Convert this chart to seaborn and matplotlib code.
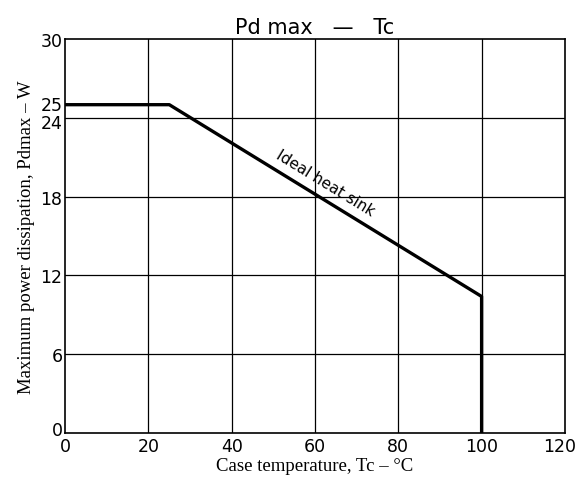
import numpy as np
import pandas as pd
import matplotlib
matplotlib.use("Agg")
import matplotlib.pyplot as plt
import matplotlib.transforms as mtrans
import seaborn as sns

# derating curve
temp_c = [0, 25, 100, 100]
pd_max_w = [25, 25, 10.4, 0]
x_ticks = [0, 20, 40, 60, 80, 100, 120]
y_ticks = [0, 6, 12, 18, 24, 25, 30]
y_grid = [6, 12, 18, 24]

df = pd.DataFrame({"Tc": temp_c, "Pd": pd_max_w})

sns.set_style("white")
plt.rcParams["text.color"] = "black"
plt.rcParams["axes.labelcolor"] = "black"
plt.rcParams["xtick.color"] = "black"
plt.rcParams["ytick.color"] = "black"

fig = plt.figure(figsize=(5.77, 4.85), dpi=100)
ax = fig.add_axes([0.113, 0.105, 0.866, 0.8125])

# grid
for xv in x_ticks[1:-1]:
    ax.axvline(xv, color="black", lw=0.9, zorder=1)
for yv in y_grid:
    ax.axhline(yv, color="black", lw=0.9, zorder=1)

sns.lineplot(data=df, x="Tc", y="Pd", sort=False, estimator=None,
             color="black", lw=2.4, ax=ax, zorder=3)

ax.set_xlim(0, 120)
ax.set_ylim(0, 30)
ax.set_xticks(x_ticks)
ax.set_yticks(y_ticks)
ax.tick_params(axis="x", length=0, pad=3)
ax.tick_params(axis="y", length=0, pad=2)
for lab in ax.get_xticklabels() + ax.get_yticklabels():
    lab.set_fontsize(12.5)
    lab.set_fontfamily("DejaVu Sans")

def nudge(lab, dx, dy):
    lab.set_transform(lab.get_transform() +
                      mtrans.ScaledTranslation(dx / 72, dy / 72, fig.dpi_scale_trans))

# nudge crowded labels apart (0, 24, 25) and keep 120 inside the figure
y_nudges = {0: 4, 24: -2, 25: 1}
for lab, val in zip(ax.get_yticklabels(), y_ticks):
    if val in y_nudges:
        nudge(lab, 0, y_nudges[val])
nudge(ax.get_xticklabels()[-1], -4, 0)

for sp in ax.spines.values():
    sp.set_color("black")
    sp.set_linewidth(1.2)

ax.set_xlabel("Case temperature, Tc – °C", fontsize=13.5,
              fontfamily="Liberation Serif", labelpad=1)
ax.set_ylabel("Maximum power dissipation, Pdmax – W", fontsize=13.5,
              fontfamily="Liberation Serif", labelpad=4)
ax.set_title("Pd max   —   Tc", fontsize=15, fontfamily="DejaVu Sans", pad=4)

ax.text(62.5, 19.1, "Ideal heat sink", rotation=-31.5, fontsize=11,
        ha="center", va="center", family="DejaVu Sans")

fig.savefig("out.png", dpi=100)
